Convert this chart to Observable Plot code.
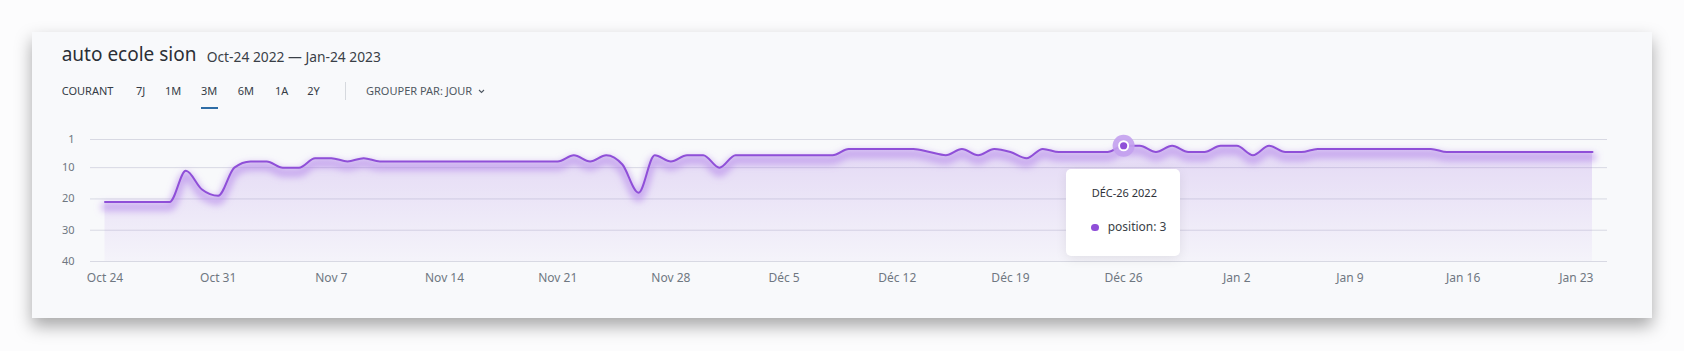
<!DOCTYPE html>
<html><head><meta charset="utf-8">
<script src="https://cdn.jsdelivr.net/npm/d3@7"></script>
<script src="https://cdn.jsdelivr.net/npm/@observablehq/plot@0.6"></script>
<style>
html,body{margin:0;padding:0;background:#fcfcfd;}
#page{position:relative;width:1684px;height:351px;overflow:hidden;font-family:"Noto Sans",sans-serif;}
#card{position:absolute;left:32px;top:32px;width:1620px;height:286px;background:#f8f9fb;box-shadow:0 8px 16px rgba(0,0,0,0.34);}
.t{position:absolute;white-space:nowrap;line-height:1;}
#chart{position:absolute;left:0;top:115px;}
#tip{position:absolute;left:1066px;top:169px;width:114px;height:87px;background:#fff;border-radius:5px;box-shadow:0 3px 12px rgba(0,0,0,0.08);}
</style></head>
<body><div id="page"><div id="card"></div><div id="header"></div><div id="chart"></div><div id="tip"></div></div>
<script>
// ---- data ----
const title = "auto ecole sion";
const subtitle = "Oct-24 2022 — Jan-24 2023";
const navItems = ["COURANT", "7J", "1M", "3M", "6M", "1A", "2Y"];
const groupLabel = "GROUPER PAR: JOUR";
const startDate = "2022-10-24";
const positions = [
  21,21,21,21,21,
  11,17,19,10,8,8,10,10,7,7,8,7,
  8,8,8,8,8,8,8,8,8,8,8,8,
  6,8,6,9,18,6,8,6,6,10,
  6,6,6,6,6,6,6,
  4,4,4,4,4,
  5,6,4,6,4,5,7,4,
  5,5,5,5,
  3,3,5,3,5,5,3,3,6,3,5,5,
  4,4,4,4,4,4,4,4,
  5,5,5,5,5,5,5,5,5,5
];
const tickDates = ["2022-10-24","2022-10-31","2022-11-07","2022-11-14","2022-11-21","2022-11-28","2022-12-05","2022-12-12","2022-12-19","2022-12-26","2023-01-02","2023-01-09","2023-01-16","2023-01-23"];
const tickLabels = ["Oct 24","Oct 31","Nov 7","Nov 14","Nov 21","Nov 28","Déc 5","Déc 12","Déc 19","Déc 26","Jan 2","Jan 9","Jan 16","Jan 23"];
const yTicks = [1, 10, 20, 30, 40];
const highlightDate = "2022-12-26";
const tipTitle = "DÉC-26 2022";
const seriesName = "position";

// ---- header ----
const header = document.getElementById("header");
function addText(txt, left, top, size, color, extra) {
  const s = document.createElement("span");
  s.className = "t";
  s.textContent = txt;
  s.style.left = left + "px"; s.style.top = top + "px";
  s.style.fontSize = size + "px"; s.style.color = color;
  if (extra) Object.assign(s.style, extra);
  header.appendChild(s);
  return s;
}
addText(title, 61.7, 45.4, 19, "#2b2f36");
addText(subtitle, 206.7, 50.0, 13.8, "#3a3f47");
const navX = [61.7, 136, 165, 201, 237.7, 275, 307.3];
navItems.forEach((n, i) => addText(n, navX[i], 84.9, 11, "#353c46"));
const div = document.createElement("div");
Object.assign(div.style, {position:"absolute", left:"345px", top:"82px", width:"1px", height:"18px", background:"#d6d9de"});
header.appendChild(div);
addText(groupLabel, 366, 84.9, 11, "#4f5862");
const chev = document.createElementNS("http://www.w3.org/2000/svg","svg");
chev.setAttribute("width","7"); chev.setAttribute("height","5");
Object.assign(chev.style, {position:"absolute", left:"478px", top:"89px"});
chev.innerHTML = '<polyline points="1,1 3.5,3.5 6,1" fill="none" stroke="#4f5862" stroke-width="1.1"/>';
header.appendChild(chev);
const ul = document.createElement("div");
Object.assign(ul.style, {position:"absolute", left:"201px", top:"107px", width:"17px", height:"2px", background:"#2e6da6"});
header.appendChild(ul);

// ---- chart ----
const start = new Date(startDate);
const data = positions.map((v, i) => ({date: d3.utcDay.offset(start, i), position: v}));
const hl = data.filter(d => +d.date === +new Date(highlightDate));
const labelMap = new Map(tickDates.map((d, i) => [+new Date(d), tickLabels[i]]));
const ticks = tickDates.map(d => new Date(d));
const purple = "#8f4fd8";

const chart = Plot.plot({
  width: 1684, height: 185,
  marginLeft: 90, marginRight: 77, marginTop: 24, marginBottom: 39,
  style: {background: "transparent", fontFamily: "'Noto Sans', sans-serif", fontSize: "12px", overflow: "visible"},
  x: {type: "utc", domain: [data[0].date, data[data.length - 1].date], insetLeft: 14.5, insetRight: 15, label: null},
  y: {domain: [1, 40], reverse: true, label: null},
  marks: [
    Plot.gridY(yTicks, {stroke: "#d8d9e3", strokeOpacity: 1}),
    Plot.areaY(data, {x: "date", y1: 40, y2: "position", curve: "monotone-x", fill: "url(#areaGrad)"}),
    Plot.line(data, {x: "date", y: "position", curve: "monotone-x", stroke: "#b080ea", strokeWidth: 8, strokeOpacity: 0.6, dy: 5}),
    Plot.line(data, {x: "date", y: "position", curve: "monotone-x", stroke: purple, strokeWidth: 2}),
    Plot.dot(hl, {x: "date", y: "position", r: 11, fill: "#c3a0ee", fillOpacity: 0.9}),
    Plot.dot(hl, {x: "date", y: "position", r: 5.5, fill: "#ffffff"}),
    Plot.dot(hl, {x: "date", y: "position", r: 3.6, fill: purple}),
    Plot.axisY(yTicks, {tickSize: 0, tickPadding: 16, fontSize: 11, fill: "#6f7781", label: null}),
    Plot.axisX(ticks, {tickSize: 0, tickPadding: 12, fontSize: 12, fill: "#6f7781", label: null, tickFormat: d => labelMap.get(+d)})
  ]
});
const defs = d3.select(chart).insert("defs", ":first-child");
const g = defs.append("linearGradient").attr("id", "areaGrad").attr("x1", 0).attr("y1", 0).attr("x2", 0).attr("y2", 1);
g.append("stop").attr("offset", "0%").attr("stop-color", "#a070e0").attr("stop-opacity", 0.24);
g.append("stop").attr("offset", "100%").attr("stop-color", "#a070e0").attr("stop-opacity", 0.04);
const f = defs.append("filter").attr("id", "glow").attr("x", "-5%").attr("y", "-50%").attr("width", "110%").attr("height", "200%");
f.append("feGaussianBlur").attr("stdDeviation", 3.5);
const lines = chart.querySelectorAll('g[aria-label="line"]');
if (lines.length) lines[0].setAttribute("filter", "url(#glow)");
document.getElementById("chart").appendChild(chart);

// ---- tooltip ----
const tip = document.getElementById("tip");
tip.innerHTML = "";
function tipText(txt, left, top, size, color) {
  const s = document.createElement("span");
  s.className = "t"; s.textContent = txt;
  Object.assign(s.style, {left: left + "px", top: top + "px", fontSize: size + "px", color});
  tip.appendChild(s);
}
tipText(tipTitle, 25.7, 17.9, 11, "#2f333a");
const dot = document.createElement("div");
Object.assign(dot.style, {position:"absolute", left:(1095-1066-3.6)+"px", top:(227.3-169-3.6)+"px", width:"7.2px", height:"7.2px", borderRadius:"50%", background: purple});
tip.appendChild(dot);
tipText(seriesName + ": " + hl[0].position, 41.7, 52, 12, "#3a3f47");
</script>
</body></html>
